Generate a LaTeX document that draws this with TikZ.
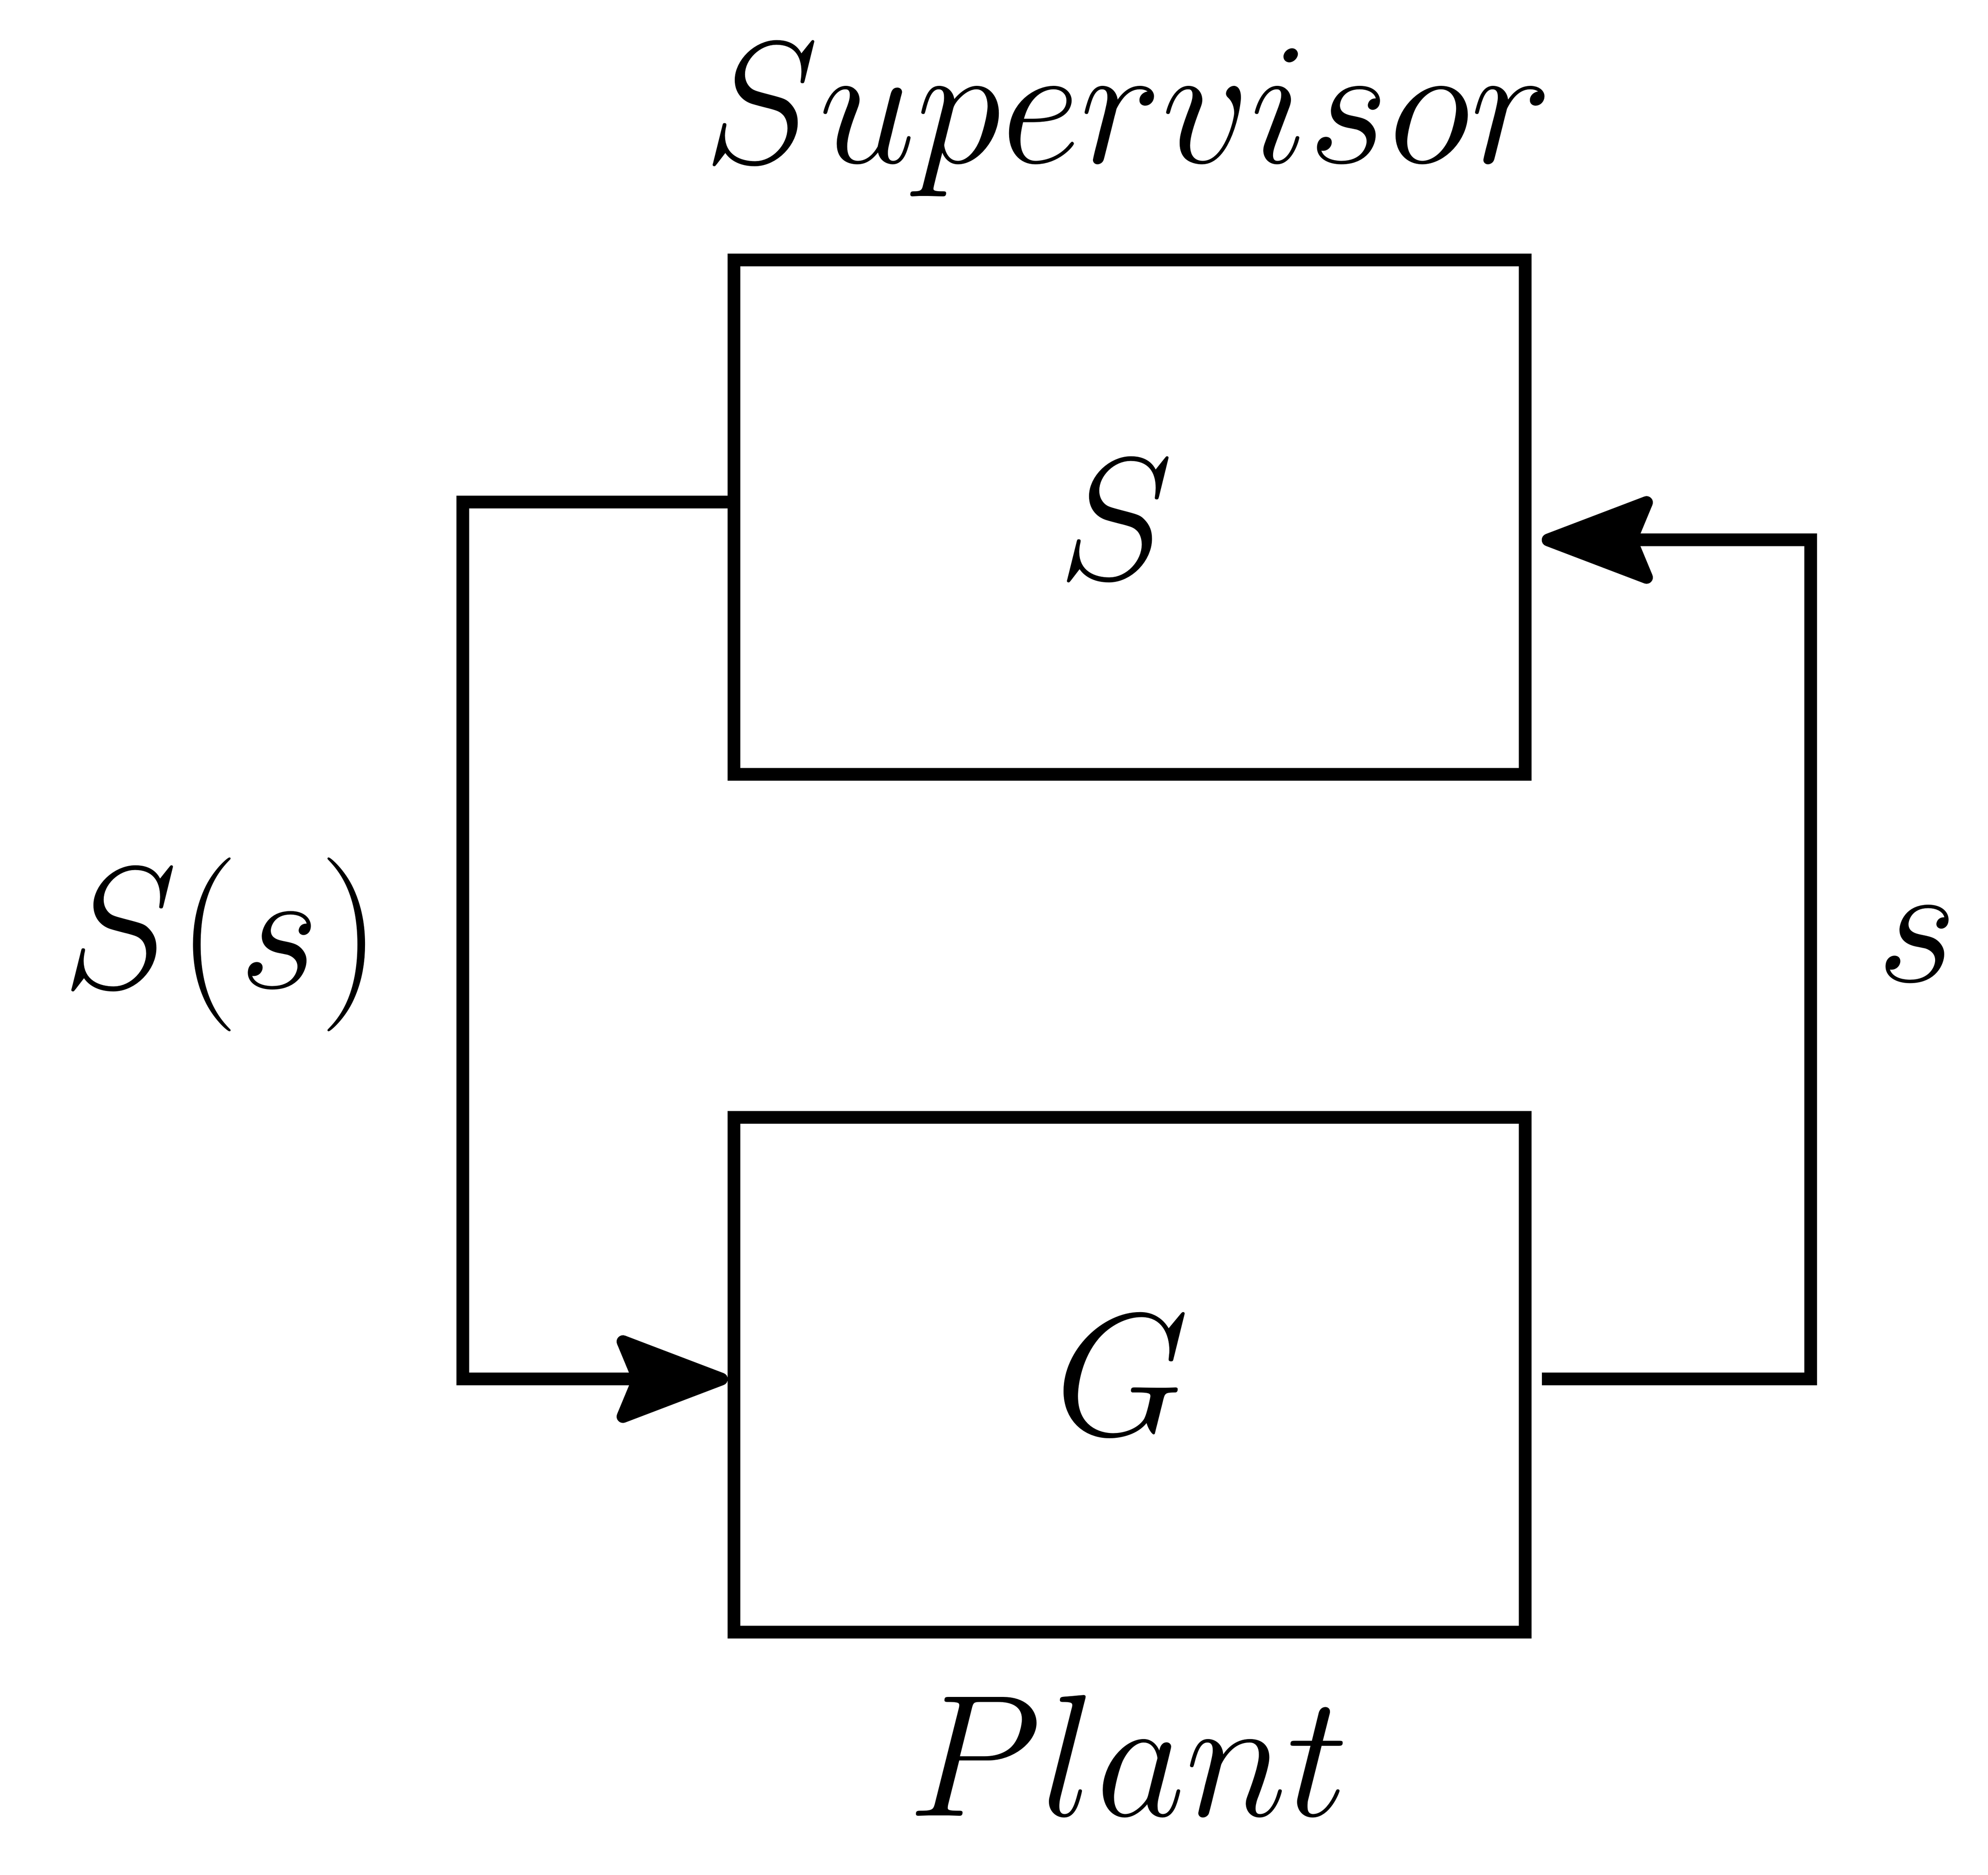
\documentclass[tikz,border=0pt]{standalone}
\usetikzlibrary{arrows.meta}
\begin{document}
\begin{tikzpicture}[
  box/.style={draw,line width=0.1cm,minimum width=6.24cm,minimum height=4.06cm,inner sep=0pt},
  lbl/.style={font=\Huge,scale=1.57},
  conn/.style={line width=0.1cm,-{Stealth[length=1cm,width=0.75cm,inset=0.15cm,round]}}]
\useasboundingbox (0,0) rectangle (15.68,-14.79);
\node[box] (S) at (8.91,-4.08) {};
\node[box] (G) at (8.91,-10.845) {};
\node[lbl] (Sl) at (8.80,-4.10) {$S$};
\node[lbl] (Gl) at (8.85,-10.85) {$G$};
\node[lbl] (sup) at (8.90,-0.95) {$Supervisor$};
\node[lbl] (pl) at (8.90,-13.85) {$Plant$};
\node[lbl] (Ss) at (1.75,-7.45) {$S(s)$};
\node[lbl] (s) at (15.12,-7.45) {$s$};
\draw[conn] ([yshift=0.12cm]S.west) -- ++(-2.09,0) |- ([yshift=-0.035cm]G.west);
\draw[conn] ([xshift=0.08cm,yshift=-0.035cm]G.east) -- ++(2.12,0) |- ([xshift=0.08cm,yshift=-0.18cm]S.east);
\end{tikzpicture}
\end{document}
